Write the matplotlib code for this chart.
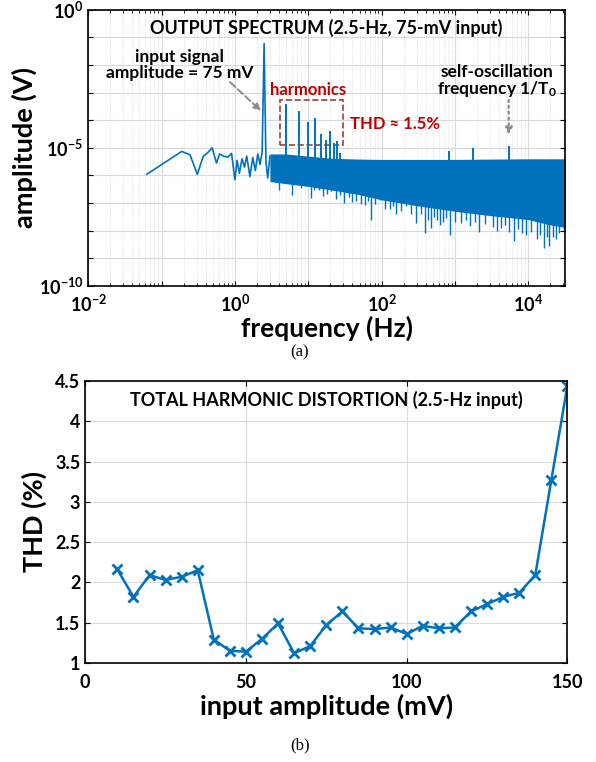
import matplotlib
matplotlib.use("Agg")
import matplotlib.pyplot as plt
from matplotlib.ticker import FixedLocator, FixedFormatter, NullLocator, LogLocator
from matplotlib.patches import Rectangle

plt.rcParams.update({
    "font.family": "Lato",
    "font.weight": "bold",
    "mathtext.fontset": "custom",
    "mathtext.rm": "Lato:bold",
    "mathtext.bf": "Lato:bold",
    "mathtext.it": "Lato:bold",
})

blue = "#0072BD"
red = "#C00000"

# ---- spectrum data ----
# sparse low-frequency part of the trace, incl. the 2.5 Hz fundamental
lf_freq = [0.063, 0.188, 0.244, 0.307, 0.37, 0.43, 0.49, 0.56, 0.62, 0.70, 0.80, 0.90,
           1.0, 1.07, 1.15, 1.25, 1.35, 1.45, 1.6, 1.75, 1.9, 2.05, 2.2, 2.35, 2.5,
           2.65, 2.8, 3.0]
lf_amp = [1.1e-6, 7.4e-6, 5.6e-6, 1.1e-6, 4.9e-6, 6.8e-6, 1.0e-5, 2.8e-6, 6.0e-6, 5.0e-6, 4.6e-6, 6.3e-6,
          7e-7, 3.5e-6, 1.2e-6, 4.0e-6, 2.0e-6, 5.0e-6, 9e-7, 4.5e-6, 1.5e-6, 6e-6, 2.5e-6, 7e-6, 0.06,
          3e-6, 8e-7, 5e-6]

# noise band envelopes (solid region of the trace)
band_freq = [3, 5, 10, 20, 50, 100, 300, 1000, 3000, 10000, 20000, 32000]
band_top = [6e-6, 6e-6, 5e-6, 4.2e-6, 3.9e-6, 3.8e-6, 3.8e-6, 3.8e-6, 3.9e-6, 4.0e-6, 4.0e-6, 4.0e-6]
band_low = [6e-7, 5e-7, 4e-7, 3e-7, 2e-7, 1.3e-7, 8e-8, 5e-8, 3.5e-8, 2.5e-8, 1.6e-8, 1.3e-8]

# downward dips below the solid band
dip_freq = [3.5, 4, 4.6, 6, 7, 8, 9, 11, 12, 14, 16, 18, 20.7, 24, 27, 31, 36, 40, 45, 52, 60,
            66, 72, 80, 94, 110, 130, 145, 159, 185, 215, 250, 290, 340, 394, 430, 475, 520,
            560, 620, 680, 760, 860, 1000, 1220, 1400, 1600, 1850, 2150, 2600, 3250, 3700,
            4200, 4800, 5500, 6400, 7300, 8200, 9300, 11000, 13000, 14500, 16500, 18000,
            19400, 21500, 24000, 26500, 29500, 31000]
dip_amp = [1.2e-6, 3e-7, 8e-7, 2e-7, 6e-7, 3.5e-7, 5e-7, 1.5e-7, 3e-7, 3e-7, 1.8e-7, 2.2e-7,
           2.7e-7, 1.4e-7, 2e-7, 1e-7, 1.6e-7, 1.1e-7, 1.2e-7, 9e-8, 8.6e-8, 1.2e-7, 2.5e-8,
           9e-8, 1.3e-7, 6e-8, 6e-8, 8e-8, 3.9e-8, 5e-8, 7.5e-8, 4e-8, 1.9e-8, 4e-8, 8e-9, 2.5e-8,
           1.2e-8, 3e-8, 2.5e-8, 1.6e-8, 2.1e-8, 2.8e-8, 7e-9, 2e-8, 1.9e-8, 2.4e-8, 1.5e-8,
           2e-8, 9e-9, 1.7e-8, 1.4e-8, 1e-8, 1.2e-8, 1.6e-8, 9e-9, 4.3e-9, 1.1e-8, 8e-9, 7e-9,
           9e-9, 5e-9, 7e-9, 2.3e-9, 6e-9, 2.7e-9, 6e-9, 5e-9, 8e-9, 1.4e-8, 9e-9]

# harmonic and other spectral spikes
spike_freq = [5, 7.5, 10, 12.5, 15, 17.5, 20, 22.5, 25, 27.5, 842, 1770, 5400]
spike_amp = [4e-4, 2.1e-4, 9e-5, 1.25e-4, 3.2e-5, 2e-5, 4.1e-5, 1.5e-5, 1.7e-5, 6.6e-6,
             7.4e-6, 9.7e-6, 1.2e-5]

# ---- THD data ----
amp_mv = [10, 15, 20, 25, 30, 35, 40, 45, 50, 55, 60, 65, 70, 75, 80, 85, 90, 95, 100,
          105, 110, 115, 120, 125, 130, 135, 140, 145, 150]
thd = [2.16, 1.82, 2.09, 2.03, 2.07, 2.15, 1.29, 1.15, 1.14, 1.30, 1.49, 1.12, 1.21, 1.47,
       1.64, 1.43, 1.42, 1.44, 1.36, 1.46, 1.43, 1.44, 1.64, 1.73, 1.82, 1.87, 2.09, 3.27, 4.44]

fig = plt.figure(figsize=(5.96, 7.62), dpi=100)

# ================= (a) spectrum =================
ax1 = fig.add_axes([0.148, 0.625, 0.800, 0.362])
ax1.set_xscale("log")
ax1.set_yscale("log")
ax1.fill_between(band_freq, band_low, band_top, color=blue, lw=0)
ax1.plot(lf_freq, lf_amp, color=blue, lw=1.2)
ax1.vlines(dip_freq, dip_amp, [2e-6] * len(dip_freq), color=blue, lw=1.0)
ax1.vlines(spike_freq, [1e-6] * len(spike_freq), spike_amp, color=blue, lw=1.4)
ax1.set_xlim(1e-2, 10 ** 4.5)
ax1.set_ylim(1e-10, 1)

dec = [10.0 ** k for k in range(-2, 5)]
ax1.xaxis.set_major_locator(FixedLocator(dec))
ax1.xaxis.set_major_formatter(FixedFormatter(
    [r"$10^{%d}$" % k if k % 2 == 0 else "" for k in range(-2, 5)]))
ax1.xaxis.set_minor_locator(LogLocator(base=10, subs=range(2, 10), numticks=20))
ax1.yaxis.set_major_locator(FixedLocator([10.0 ** k for k in range(-10, 1)]))
ax1.yaxis.set_major_formatter(FixedFormatter(
    [r"$10^{%d}$" % k if k % 5 == 0 else "" for k in range(-10, 1)]))
ax1.yaxis.set_minor_locator(NullLocator())
ax1.grid(which="major", color="#d9d9d9", lw=0.8)
ax1.grid(which="minor", axis="x", color="#d9d9d9", lw=0.6, ls=":")
ax1.set_axisbelow(True)
ax1.tick_params(which="both", direction="in", top=True, right=True, labelsize=13)
ax1.tick_params(axis="x", pad=6)
ax1.set_xlabel("frequency (Hz)", fontsize=19, fontweight="bold", labelpad=0)
ax1.set_ylabel("amplitude (V)", fontsize=19.5, fontweight="bold", labelpad=1)
for s in ax1.spines.values():
    s.set_linewidth(1.2)

ax1.text(0.5, 0.967, "OUTPUT SPECTRUM (2.5-Hz, 75-mV input)", transform=ax1.transAxes,
         ha="center", va="top", fontsize=13, fontweight="bold")
ax1.annotate("", xy=(2.26, 2.2e-4), xytext=(0.86, 2.4e-3),
             arrowprops=dict(arrowstyle="-|>", color="#8c8c8c", ls="--", lw=1.4,
                             shrinkA=0, shrinkB=0, mutation_scale=10))
ax1.text(0.178, 1.0e-2, "input signal\namplitude = 75 mV", ha="center", va="center",
         fontsize=12.5, fontweight="bold", linespacing=0.95)
ax1.annotate("", xy=(5400, 3e-5), xytext=(5400, 5.5e-4),
             arrowprops=dict(arrowstyle="-|>", color="#8c8c8c", ls=":", lw=1.6,
                             shrinkA=0, shrinkB=0, mutation_scale=10))
ax1.text(3700, 2.5e-3, "self-oscillation\nfrequency 1/T$_0$", ha="center", va="center",
         fontsize=12.5, fontweight="bold", linespacing=0.95)
ax1.add_patch(Rectangle((4.1, 1.3e-5), 29.5 - 4.1, 5.5e-4 - 1.3e-5, fill=False,
                        ec="#a0403a", ls="--", lw=1.2))
ax1.text(9.85, 1.25e-3, "harmonics", ha="center", va="center", color=red,
         fontsize=12, fontweight="bold")
ax1.text(36.7, 7.4e-5, "THD \u2248 1.5%", ha="left", va="center", color=red,
         fontsize=12, fontweight="bold")
fig.text(0.503, 0.538, "(a)", ha="center", va="center", fontsize=12, fontweight="normal",
         family="Liberation Serif")

# ================= (b) THD =================
ax2 = fig.add_axes([0.143, 0.130, 0.809, 0.370])
ax2.plot(amp_mv, thd, color=blue, lw=1.8, marker="x", ms=7, mew=2)
ax2.set_xlim(0, 150)
ax2.set_ylim(1, 4.5)
ax2.set_xticks([0, 50, 100, 150])
ax2.set_yticks([1, 1.5, 2, 2.5, 3, 3.5, 4, 4.5])
ax2.set_yticklabels(["1", "1.5", "2", "2.5", "3", "3.5", "4", "4.5"])
ax2.grid(color="#dcdcdc", lw=0.8)
ax2.set_axisbelow(True)
ax2.tick_params(direction="in", top=True, right=True, labelsize=13)
ax2.tick_params(axis="x", pad=8)
ax2.set_xlabel("input amplitude (mV)", fontsize=19.5, fontweight="bold", labelpad=2)
ax2.set_ylabel("THD (%)", fontsize=19.5, fontweight="bold", labelpad=6)
for s in ax2.spines.values():
    s.set_linewidth(1.2)
ax2.text(0.5, 0.965, "TOTAL HARMONIC DISTORTION (2.5-Hz input)", transform=ax2.transAxes,
         ha="center", va="top", fontsize=13, fontweight="bold")
fig.text(0.503, 0.022, "(b)", ha="center", va="center", fontsize=12, fontweight="normal",
         family="Liberation Serif")

fig.savefig("out.png", dpi=100)
